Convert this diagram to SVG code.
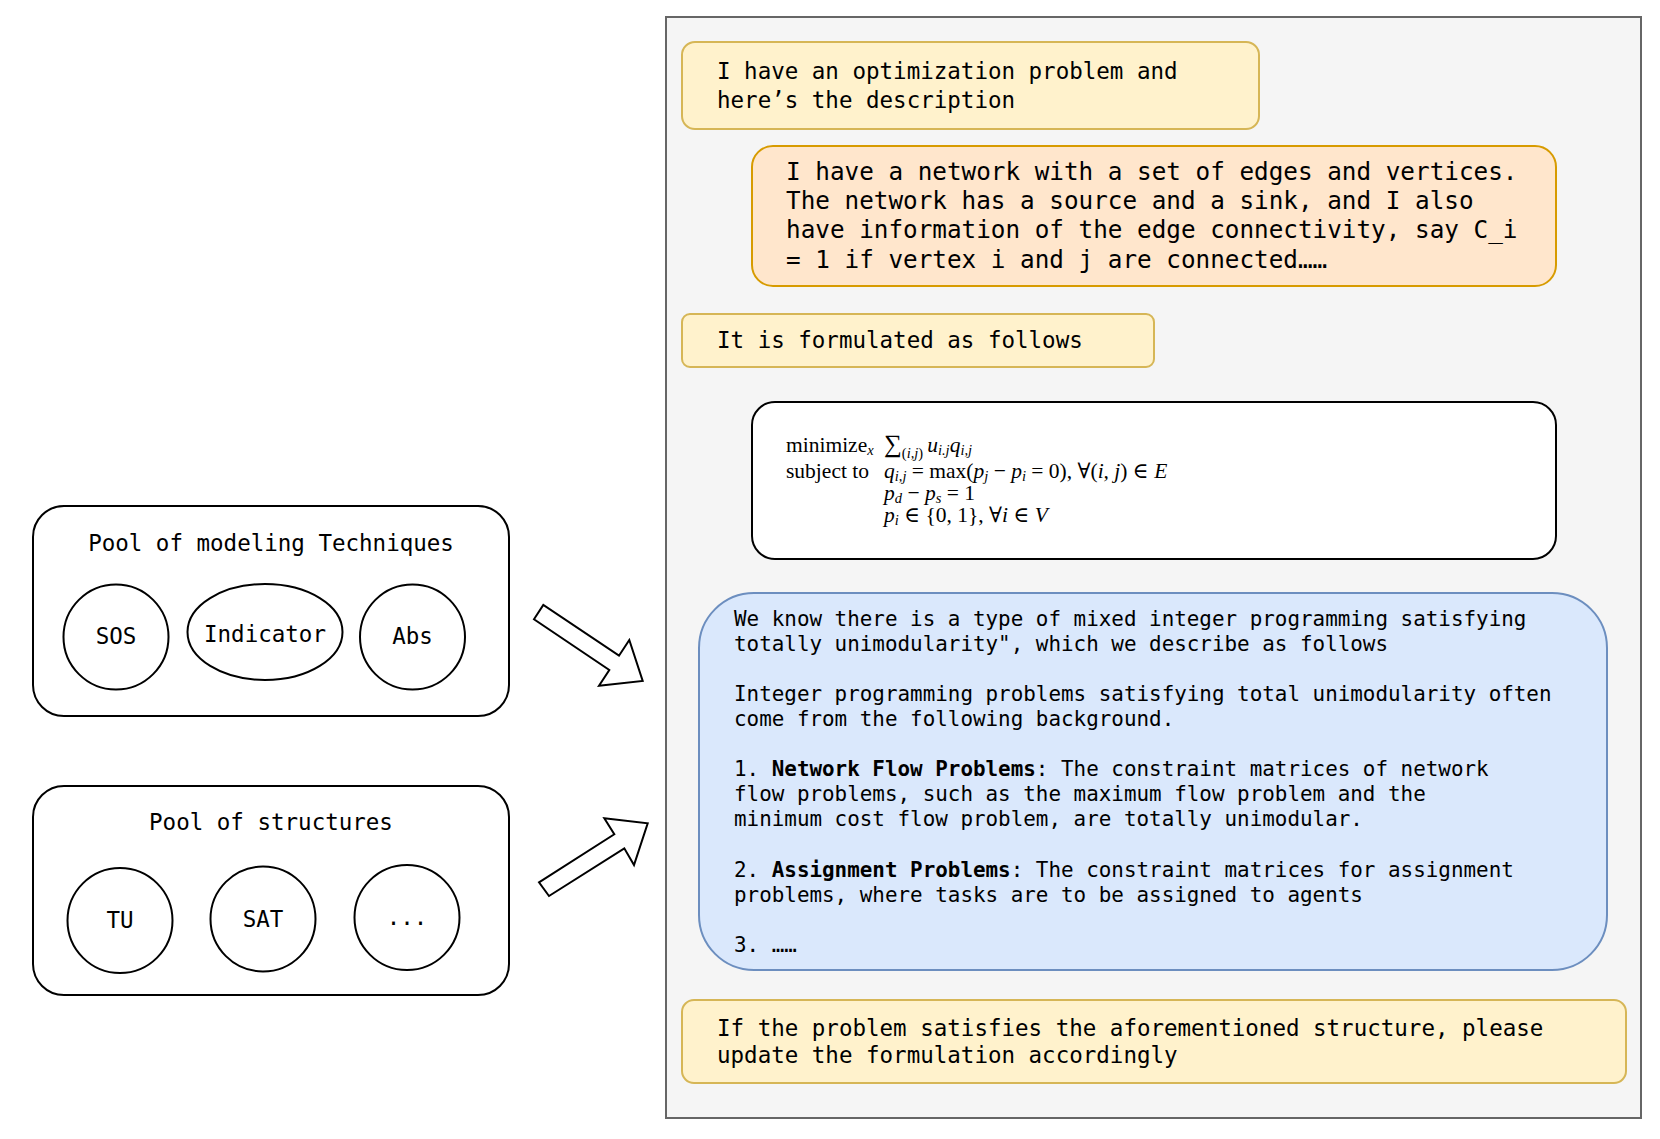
<svg xmlns="http://www.w3.org/2000/svg" width="1660" height="1139" viewBox="0 0 1660 1139">
<style>
.mono{font-family:"DejaVu Sans Mono","Liberation Mono",monospace;fill:#000}
.t{font-size:22.5px}
.o{font-size:24.3px}
.b{font-size:20.9px}
.c{text-anchor:middle}
.bold{font-weight:bold}
.math{font-family:"Liberation Serif","DejaVu Serif",serif;font-size:21.5px;fill:#000}
.it{font-style:italic}
.sub{font-size:14.5px}
.big{font-size:25px}
.yel{fill:#fff2cc;stroke:#d6b656;stroke-width:2}
.org{fill:#ffe6cc;stroke:#d79b00;stroke-width:2}
.blu{fill:#dae8fc;stroke:#6c8ebf;stroke-width:2}
.wht{fill:#ffffff;stroke:#000;stroke-width:2}
.arr{fill:#ffffff;stroke:#000;stroke-width:2;stroke-linejoin:miter}
</style>
<rect width="1660" height="1139" fill="#ffffff"/>
<g id="panel">
<rect x="666" y="17" width="975" height="1101" fill="#f5f5f5" stroke="#666666" stroke-width="2"/>
</g>
<g id="msg1">
<rect class="yel" x="682" y="42" width="577" height="87" rx="13"/>
<text class="mono t" x="717" y="79">I have an optimization problem and</text>
<text class="mono t" x="717" y="107.5">here’s the description</text>
</g>
<g id="msg2">
<rect class="org" x="752" y="146" width="804" height="140" rx="21"/>
<text class="mono o" x="786" y="179.5">I have a network with a set of edges and vertices.</text>
<text class="mono o" x="786" y="209">The network has a source and a sink, and I also</text>
<text class="mono o" x="786" y="238.3">have information of the edge connectivity, say C_i</text>
<text class="mono o" x="786" y="267.6">= 1 if vertex i and j are connected……</text>
</g>
<g id="msg3">
<rect class="yel" x="682" y="314" width="472" height="53" rx="8"/>
<text class="mono t" x="717" y="348">It is formulated as follows</text>
</g>
<g id="formula">
<rect class="wht" x="752" y="402" width="804" height="157" rx="23"/>
<text class="math" x="786" y="452">minimize<tspan class="sub it" dy="3">x</tspan></text>
<text class="math" x="884" y="452"><tspan class="big">∑</tspan><tspan class="sub" dy="6">(</tspan><tspan class="sub it">i,j</tspan><tspan class="sub">)</tspan><tspan class="it" dy="-6" dx="4">u</tspan><tspan class="sub it" dy="3">i.j</tspan><tspan class="it" dy="-3">q</tspan><tspan class="sub it" dy="3">i,j</tspan></text>
<text class="math" x="786" y="478">subject to</text>
<text class="math" x="884" y="478"><tspan class="it">q</tspan><tspan class="sub it" dy="3">i,j</tspan><tspan dy="-3"> = max(</tspan><tspan class="it">p</tspan><tspan class="sub it" dy="3">j</tspan><tspan dy="-3"> − </tspan><tspan class="it">p</tspan><tspan class="sub it" dy="3">i</tspan><tspan dy="-3"> = 0), ∀(</tspan><tspan class="it">i, j</tspan><tspan>) ∈ </tspan><tspan class="it">E</tspan></text>
<text class="math" x="884" y="500"><tspan class="it">p</tspan><tspan class="sub it" dy="3">d</tspan><tspan dy="-3"> − </tspan><tspan class="it">p</tspan><tspan class="sub it" dy="3">s</tspan><tspan dy="-3"> = 1</tspan></text>
<text class="math" x="884" y="522"><tspan class="it">p</tspan><tspan class="sub it" dy="3">i</tspan><tspan dy="-3"> ∈ {0, 1}, ∀</tspan><tspan class="it">i</tspan><tspan> ∈ </tspan><tspan class="it">V</tspan></text>
</g>
<g id="background">
<rect class="blu" x="699" y="593" width="908" height="377" rx="55"/>
<text class="mono b" x="734" y="625.5">We know there is a type of mixed integer programming satisfying</text>
<text class="mono b" x="734" y="650.5">totally unimodularity", which we describe as follows</text>
<text class="mono b" x="734" y="701">Integer programming problems satisfying total unimodularity often</text>
<text class="mono b" x="734" y="726">come from the following background.</text>
<text class="mono b" x="734" y="776">1. <tspan class="bold">Network Flow Problems</tspan>: The constraint matrices of network</text>
<text class="mono b" x="734" y="801">flow problems, such as the maximum flow problem and the</text>
<text class="mono b" x="734" y="826">minimum cost flow problem, are totally unimodular.</text>
<text class="mono b" x="734" y="877">2. <tspan class="bold">Assignment Problems</tspan>: The constraint matrices for assignment</text>
<text class="mono b" x="734" y="901.5">problems, where tasks are to be assigned to agents</text>
<text class="mono b" x="734" y="952">3. ……</text>
</g>
<g id="msg4">
<rect class="yel" x="682" y="1000" width="944" height="83" rx="12"/>
<text class="mono t" x="717" y="1035.5">If the problem satisfies the aforementioned structure, please</text>
<text class="mono t" x="717" y="1063">update the formulation accordingly</text>
</g>
<g id="pool-techniques">
<rect class="wht" x="33" y="506" width="476" height="210" rx="31"/>
<text class="mono t c" x="271" y="551">Pool of modeling Techniques</text>
<g id="sos"><circle class="wht" cx="116" cy="637" r="52.5"/><text class="mono t c" x="116" y="644">SOS</text></g>
<g id="indicator"><ellipse class="wht" cx="265" cy="632" rx="77.5" ry="48"/><text class="mono t c" x="265" y="641.5">Indicator</text></g>
<g id="abs"><circle class="wht" cx="412.5" cy="637" r="52.5"/><text class="mono t c" x="412.5" y="644">Abs</text></g>
</g>
<g id="pool-structures">
<rect class="wht" x="33" y="786" width="476" height="209" rx="31"/>
<text class="mono t c" x="271" y="830">Pool of structures</text>
<g id="tu"><ellipse class="wht" cx="120" cy="920.5" rx="52.5" ry="52.5"/><text class="mono t c" x="120" y="928">TU</text></g>
<g id="sat"><ellipse class="wht" cx="263" cy="919" rx="52.5" ry="52.5"/><text class="mono t c" x="263" y="926.5">SAT</text></g>
<g id="more"><ellipse class="wht" cx="407" cy="917.5" rx="52.5" ry="52.5"/><text class="mono t c" x="407" y="925">...</text></g>
</g>
<g id="connectors">
<polygon class="arr" points="534,619.3 543.3,605 619,655.7 629.3,640 642.7,681 599,685.7 609.3,670"/>
<polygon class="arr" points="539,882.3 614.3,834.3 604.3,818.3 647.7,823.3 634,865 624.3,848.3 549,896"/>
</g>
</svg>
